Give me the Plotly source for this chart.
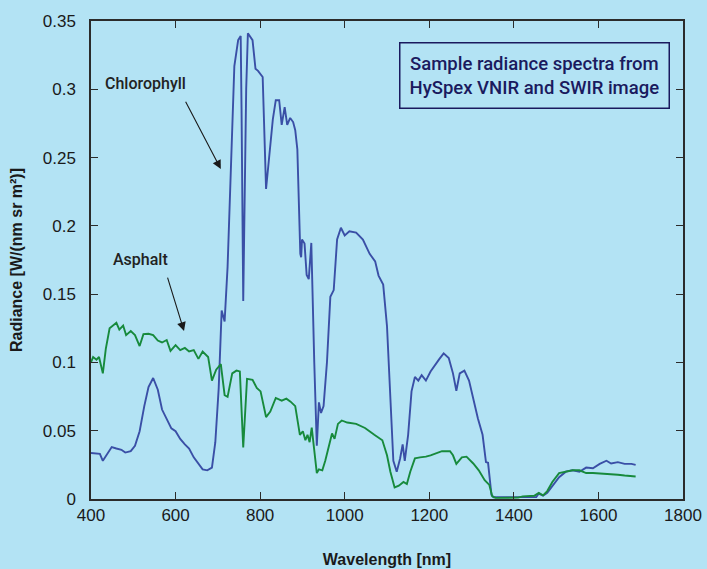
import plotly.graph_objects as go

# Chlorophyll radiance spectrum (nm, W/(nm sr m^2))
chl_wl = [400, 414, 421, 428, 436, 449, 460, 472, 481, 494, 504, 515, 526, 536, 547, 558, 568, 579, 590, 600,
          611, 622, 632, 643, 654, 664, 675, 686, 694, 702, 709, 716, 723, 731, 739, 748, 754, 756, 760, 767,
          771, 782, 789, 795, 801, 806, 814, 824, 830, 837, 845, 851, 858, 864, 871, 878, 883, 888, 895, 897,
          899, 905, 910, 915, 921, 928, 934, 939, 944, 950, 958, 966, 974, 982, 991, 1000, 1011, 1027, 1043, 1059,
          1072, 1080, 1091, 1100, 1108, 1115, 1123, 1131, 1137, 1142, 1150, 1158, 1166, 1174, 1182, 1192, 1203, 1214, 1224, 1234,
          1246, 1256, 1264, 1272, 1283, 1294, 1304, 1315, 1326, 1334, 1339, 1347, 1352, 1368, 1400, 1430, 1453, 1459, 1469, 1479,
          1491, 1507, 1523, 1539, 1555, 1571, 1587, 1603, 1619, 1630, 1646, 1662, 1678, 1688]
chl_rad = [0.0337, 0.033, 0.033, 0.028, 0.0316, 0.038, 0.037, 0.036, 0.034, 0.035, 0.039, 0.0496, 0.068, 0.082, 0.0886, 0.080, 0.0655, 0.059, 0.0517, 0.0496,
           0.044, 0.040, 0.037, 0.0305, 0.0257, 0.0217, 0.021, 0.023, 0.0416, 0.081, 0.138, 0.130, 0.170, 0.246, 0.317, 0.336, 0.339, 0.286, 0.145, 0.300,
           0.341, 0.336, 0.315, 0.3135, 0.311, 0.309, 0.227, 0.262, 0.278, 0.292, 0.292, 0.274, 0.287, 0.274, 0.279, 0.276, 0.270, 0.256, 0.1795, 0.177,
           0.190, 0.187, 0.164, 0.161, 0.1875, 0.100, 0.039, 0.0708, 0.063, 0.068, 0.100, 0.148, 0.153, 0.190, 0.1986, 0.193, 0.196, 0.195, 0.190, 0.1795,
           0.174, 0.1636, 0.157, 0.1265, 0.0735, 0.028, 0.020, 0.0297, 0.040, 0.028, 0.047, 0.0788, 0.0894, 0.0867, 0.0907, 0.0867, 0.0933, 0.0987, 0.1026, 0.1066,
           0.1032, 0.092, 0.0793, 0.092, 0.094, 0.0867, 0.0735, 0.059, 0.047, 0.027, 0.0265, 0.003, 0.0013, 0.0013, 0.0013, 0.0013, 0.0015, 0.004, 0.0024, 0.0045,
           0.0098, 0.016, 0.020, 0.021, 0.020, 0.023, 0.0225, 0.0257, 0.028, 0.026, 0.027, 0.0257, 0.0257, 0.025]

# Asphalt radiance spectrum
asp_wl = [400, 405, 413, 419, 428, 435, 444, 451, 460, 467, 476, 483, 494, 504, 515, 524, 536, 547, 558, 568,
          579, 588, 600, 611, 622, 632, 643, 654, 664, 677, 686, 696, 707, 716, 723, 734, 744, 752, 760, 769,
          782, 792, 801, 814, 824, 837, 851, 862, 872, 883, 894, 901, 907, 912, 917, 922, 928, 934, 939, 947,
          954, 963, 970, 976, 984, 993, 1006, 1027, 1048, 1070, 1089, 1100, 1108, 1118, 1128, 1139, 1147, 1155, 1166, 1178,
          1192, 1203, 1214, 1230, 1249, 1256, 1264, 1277, 1288, 1304, 1317, 1331, 1342, 1349, 1357, 1389, 1410, 1421, 1448, 1459,
          1469, 1479, 1491, 1507, 1523, 1539, 1555, 1571, 1587, 1603, 1624, 1646, 1662, 1678, 1688]
asp_rad = [0.100, 0.104, 0.102, 0.104, 0.092, 0.110, 0.125, 0.1265, 0.129, 0.124, 0.127, 0.120, 0.123, 0.120, 0.112, 0.1207, 0.121, 0.120, 0.116, 0.1146,
           0.1164, 0.1085, 0.1127, 0.109, 0.1106, 0.108, 0.109, 0.1026, 0.108, 0.104, 0.0867, 0.0947, 0.0987, 0.076, 0.0748, 0.092, 0.094, 0.0934, 0.0377, 0.088,
           0.0873, 0.0814, 0.0788, 0.060, 0.064, 0.074, 0.072, 0.0735, 0.0713, 0.068, 0.047, 0.0496, 0.043, 0.047, 0.0416, 0.0522, 0.0337, 0.019, 0.0217, 0.021,
           0.028, 0.039, 0.048, 0.044, 0.055, 0.0575, 0.056, 0.055, 0.052, 0.047, 0.043, 0.032, 0.020, 0.0085, 0.0098, 0.0125, 0.011, 0.020, 0.0297, 0.0305,
           0.031, 0.032, 0.033, 0.035, 0.035, 0.032, 0.0257, 0.0305, 0.031, 0.026, 0.021, 0.0138, 0.0103, 0.0019, 0.0008, 0.001, 0.001, 0.0019, 0.0024, 0.0045,
           0.0027, 0.0058, 0.0125, 0.019, 0.020, 0.021, 0.021, 0.019, 0.019, 0.0188, 0.0183, 0.0178, 0.0172, 0.017, 0.0165]

x_ticks = [400, 600, 800, 1000, 1200, 1400, 1600, 1800]
y_ticks = [0, 0.05, 0.1, 0.15, 0.2, 0.25, 0.3, 0.35]
y_tick_text = ["0", "0.05", "0.1", "0.15", "0.2", "0.25", "0.3", "0.35"]

BG = "#b3e3f4"
AX = "#2b2b2b"

fig = go.Figure()
fig.add_trace(go.Scatter(x=chl_wl, y=chl_rad, mode="lines", name="Chlorophyll",
                         line=dict(color="#3a4fa6", width=1.9), showlegend=False))
fig.add_trace(go.Scatter(x=asp_wl, y=asp_rad, mode="lines", name="Asphalt",
                         line=dict(color="#178a3c", width=1.9), showlegend=False))

label_font = dict(family="Roboto, Liberation Sans, sans-serif", size=16, color="#222222", weight=500)

fig.add_annotation(x=530, y=0.3045, text="Chlorophyll", showarrow=False, font=label_font)
fig.add_annotation(x=707, y=0.2416, ax=622, ay=0.292, axref="x", ayref="y", xref="x", yref="y",
                   text="", showarrow=True, arrowhead=2, arrowsize=1.6, arrowwidth=1.1, arrowcolor="#1a1a1a")
fig.add_annotation(x=516, y=0.1757, text="Asphalt", showarrow=False, font=label_font)
fig.add_annotation(x=620, y=0.123, ax=580, ay=0.1632, axref="x", ayref="y", xref="x", yref="y",
                   text="", showarrow=True, arrowhead=2, arrowsize=1.6, arrowwidth=1.1, arrowcolor="#1a1a1a")

fig.add_annotation(x=1449, y=0.31, xref="x", yref="y",
                   text="Sample radiance spectra from<br>HySpex VNIR and SWIR image",
                   showarrow=False, align="center",
                   font=dict(family="Roboto, Liberation Sans, sans-serif", size=18.5, color="#1a1a5e", weight=500),
                   bordercolor="#1a1a5e", borderwidth=1.5, borderpad=9, bgcolor=BG)

fig.update_layout(
    width=707, height=569,
    paper_bgcolor=BG, plot_bgcolor=BG,
    margin=dict(l=91, r=24, t=21, b=70, autoexpand=False),
    font=dict(family="Liberation Sans, Arial, sans-serif", color="#1a1a1a"),
)
fig.update_xaxes(range=[400, 1800], tickvals=x_ticks, ticks="inside", ticklen=7, tickcolor=AX, tickwidth=1.2,
                 showline=True, linecolor=AX, linewidth=1.5, mirror="ticks", showgrid=False, zeroline=False,
                 tickfont=dict(size=17, color="#1a1a1a"), automargin=False,
                 title=dict(text="<b>Wavelength [nm]</b>", font=dict(size=16, color="#1a1a1a"), standoff=30))
fig.update_yaxes(range=[0, 0.35], tickvals=y_ticks, ticktext=y_tick_text, ticks="inside", ticklen=7, tickcolor=AX, tickwidth=1.2,
                 showline=True, linecolor=AX, linewidth=1.5, mirror="ticks", showgrid=False, zeroline=False,
                 tickfont=dict(size=17, color="#1a1a1a"), ticklabelstandoff=10, automargin=False,
                 title=dict(text="<b>Radiance [W/(nm sr m²)]</b>", font=dict(size=16, color="#1a1a1a"), standoff=16))

fig.write_html("out.html", config={"displayModeBar": False},
               post_script="document.body.style.margin='0';document.body.style.background='%s';" % BG)
